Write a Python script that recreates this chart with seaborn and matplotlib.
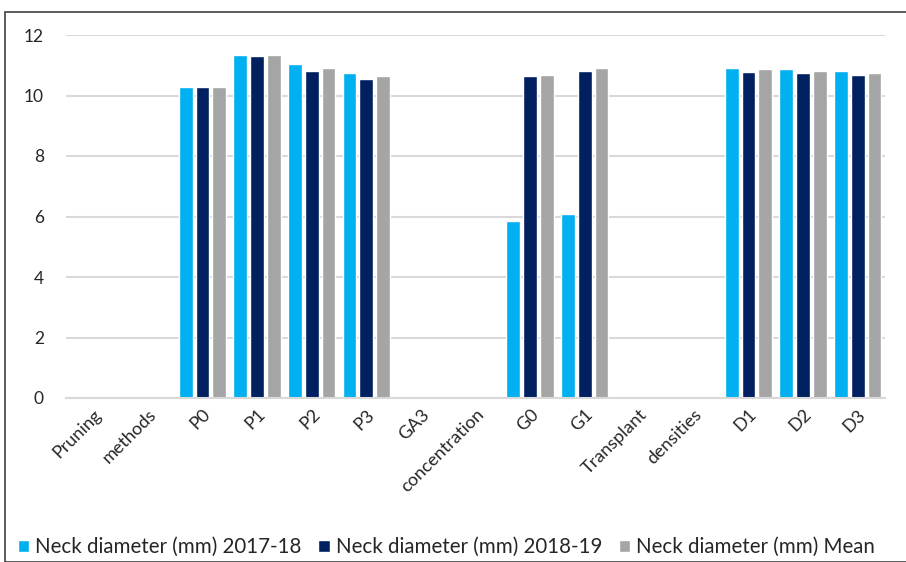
import matplotlib.pyplot as plt
import seaborn as sns
import pandas as pd
import numpy as np
from matplotlib.patches import Rectangle

categories = ["Pruning", "methods", "P0", "P1", "P2", "P3", "GA3", "concentration",
              "G0", "G1", "Transplant", "densities", "D1", "D2", "D3"]
nan = np.nan
neck_2017 = [nan, nan, 10.28, 11.35, 11.04, 10.74, nan, nan, 5.84, 6.07, nan, nan, 10.91, 10.88, 10.82]
neck_2018 = [nan, nan, 10.28, 11.30, 10.81, 10.56, nan, nan, 10.64, 10.81, nan, nan, 10.78, 10.74, 10.69]
neck_mean = [nan, nan, 10.28, 11.35, 10.92, 10.65, nan, nan, 10.69, 10.92, nan, nan, 10.87, 10.82, 10.75]
series = ["Neck diameter (mm) 2017-18", "Neck diameter (mm) 2018-19", "Neck diameter (mm) Mean"]
colors = ["#00B0F0", "#002060", "#A5A5A5"]

df = pd.DataFrame({
    "Category": categories * 3,
    "Series": [series[0]] * 15 + [series[1]] * 15 + [series[2]] * 15,
    "Value": neck_2017 + neck_2018 + neck_mean,
})

sns.set_theme(style="white")
plt.rcParams["font.family"] = ["Lato", "DejaVu Sans"]

fig = plt.figure(figsize=(9.06, 5.62), dpi=100)
ax = fig.add_axes([66 / 906, 1 - 398 / 562, (885 - 66) / 906, (398 - 35) / 562])

sns.barplot(data=df, x="Category", y="Value", hue="Series", order=categories,
            hue_order=series, palette=colors, width=0.92, gap=0.18,
            saturation=1, ax=ax)

ax.set_ylim(0, 12)
ax.set_xlim(-0.5, len(categories) - 0.5)
ax.set_yticks([0, 2, 4, 6, 8, 10, 12])
ax.yaxis.grid(True, color="#D9D9D9", linewidth=1.5)
ax.set_axisbelow(True)
for s in ["top", "right", "left"]:
    ax.spines[s].set_visible(False)
ax.spines["bottom"].set_color("#D9D9D9")
ax.spines["bottom"].set_linewidth(1.5)
ax.set_xlabel("")
ax.set_ylabel("")
ax.tick_params(axis="y", labelsize=12.5, colors="#262626", length=0, pad=16)
ax.tick_params(axis="x", labelsize=13, colors="#262626", length=0, pad=6)
plt.setp(ax.get_xticklabels(), rotation=45, ha="right", rotation_mode="anchor")

ax.legend(loc="lower left", ncol=3, frameon=False,
          fontsize=14.8, handlelength=0.55, handleheight=0.55, handletextpad=0.3,
          columnspacing=0.8, borderaxespad=0, borderpad=0)
leg = ax.get_legend()
leg.set_bbox_to_anchor((18 / 906, 5 / 562), transform=fig.transFigure)

fig.patches.append(Rectangle((5 / 906, 0), 1.2, 1 - 12 / 562, transform=fig.transFigure,
                             fill=False, edgecolor="#404040", linewidth=1.2, figure=fig))

fig.savefig("out.png", dpi=100)
